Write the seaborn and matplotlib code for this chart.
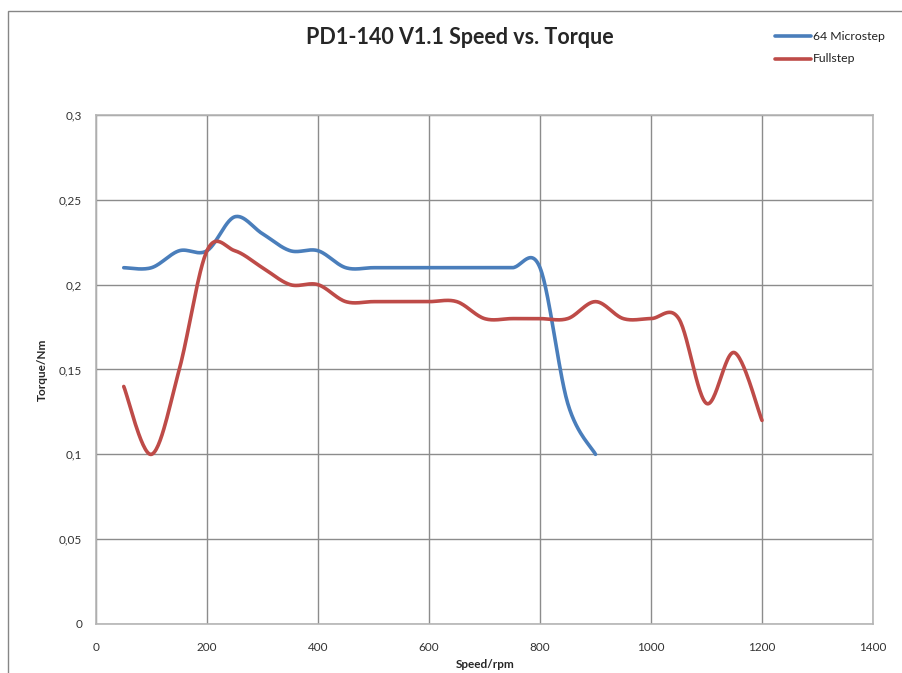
import numpy as np
import pandas as pd
import matplotlib
matplotlib.use("Agg")
import matplotlib.pyplot as plt
import seaborn as sns
from matplotlib.patches import Rectangle
from matplotlib.ticker import FuncFormatter, MultipleLocator

# ---- data ----
micro_speed = [50, 100, 150, 200, 250, 300, 350, 400, 450, 500, 550, 600, 650,
               700, 750, 800, 850, 900]
micro_torque = [0.21, 0.21, 0.22, 0.22, 0.24, 0.23, 0.22, 0.22, 0.21, 0.21, 0.21,
                0.21, 0.21, 0.21, 0.21, 0.21, 0.13, 0.10]
full_speed = [50, 100, 150, 200, 250, 300, 350, 400, 450, 500, 550, 600, 650, 700,
              750, 800, 850, 900, 950, 1000, 1050, 1100, 1150, 1200]
full_torque = [0.14, 0.10, 0.15, 0.22, 0.22, 0.21, 0.20, 0.20, 0.19, 0.19, 0.19,
               0.19, 0.19, 0.18, 0.18, 0.18, 0.18, 0.19, 0.18, 0.18, 0.18, 0.13,
               0.16, 0.12]
series_names = ["64 Microstep", "Fullstep"]
colors = ["#4a7ebb", "#be4b48"]


def excel_smooth(x, y, n=30):
    """Render Excel-style smoothed line (cubic Bezier through each data point)."""
    x = np.asarray(x, float)
    y = np.asarray(y, float)
    px = np.concatenate([[x[0]], x, [x[-1]]])
    py = np.concatenate([[y[0]], y, [y[-1]]])
    t = np.linspace(0, 1, n)[:, None]
    xs, ys = [], []
    for i in range(1, len(px) - 2):
        p0 = np.array([px[i], py[i]])
        p3 = np.array([px[i + 1], py[i + 1]])
        c1 = p0 + (np.array([px[i + 1], py[i + 1]]) - np.array([px[i - 1], py[i - 1]])) / 6
        c2 = p3 - (np.array([px[i + 2], py[i + 2]]) - np.array([px[i], py[i]])) / 6
        b = ((1 - t) ** 3) * p0 + 3 * ((1 - t) ** 2) * t * c1 + 3 * (1 - t) * t ** 2 * c2 + t ** 3 * p3
        xs.append(b[:, 0])
        ys.append(b[:, 1])
    return np.concatenate(xs), np.concatenate(ys)


frames = []
for name, xs_, ys_ in [(series_names[0], micro_speed, micro_torque),
                       (series_names[1], full_speed, full_torque)]:
    sx, sy = excel_smooth(xs_, ys_)
    frames.append(pd.DataFrame({"speed": sx, "torque": sy, "series": name,
                                "order": np.arange(len(sx))}))
df = pd.concat(frames, ignore_index=True)

sns.set_style("white")
plt.rcParams["font.family"] = ["Lato", "DejaVu Sans"]

fig = plt.figure(figsize=(9.03, 6.73), dpi=100)
W, H = 903, 673
ax = fig.add_axes([96 / W, 1 - 624 / H, (873 - 96) / W, (624 - 115) / H])

sns.lineplot(data=df, x="speed", y="torque", hue="series", palette=colors,
             sort=False, estimator=None, units="series", linewidth=2.6, ax=ax,
             legend=False)

ax.set_xlim(0, 1400)
ax.set_ylim(0, 0.3)
ax.xaxis.set_major_locator(MultipleLocator(200))
ax.yaxis.set_major_locator(MultipleLocator(0.05))
fmt = FuncFormatter(lambda v, p: ("%g" % round(v, 4)).replace(".", ","))
ax.yaxis.set_major_formatter(fmt)
ax.xaxis.set_major_formatter(FuncFormatter(lambda v, p: "%d" % v))
ax.grid(True, color="#8c8c8c", linewidth=1.0)
for s in ax.spines.values():
    s.set_color("#b5b5b5")
    s.set_linewidth(1.2)
ax.tick_params(axis="both", length=0, labelsize=8.5, colors="#333333")
ax.tick_params(axis="y", pad=10)
ax.tick_params(axis="x", pad=13)
ax.set_xlabel("")
ax.set_ylabel("")
fig.text(485 / W, 1 - 664 / H, "Speed/rpm", ha="center", va="center",
         fontsize=8.5, fontweight="bold")
fig.text(42 / W, 1 - 370 / H, "Torque/Nm", ha="center", va="center",
         rotation=90, fontsize=8.5, fontweight="bold")

fig.text(460 / W, 1 - 38 / H, "PD1-140 V1.1 Speed vs. Torque", ha="center",
         va="center", fontsize=15.5, fontweight="bold")

# legend
for i, name in enumerate(series_names):
    yy = 1 - (36 + 23 * i) / H
    fig.add_artist(plt.Line2D([775 / W, 811 / W], [yy, yy], color=colors[i],
                              linewidth=2.6, transform=fig.transFigure))
    fig.text(813 / W, yy, name, ha="left", va="center", fontsize=8.8,
             color="#222222")

# chart area border
fig.add_artist(Rectangle((8 / W, -0.1), 1.2, 1 - 11 / H + 0.1,
                         transform=fig.transFigure, fill=False,
                         edgecolor="#868686", linewidth=1.0))

fig.savefig("out.png", dpi=100)
